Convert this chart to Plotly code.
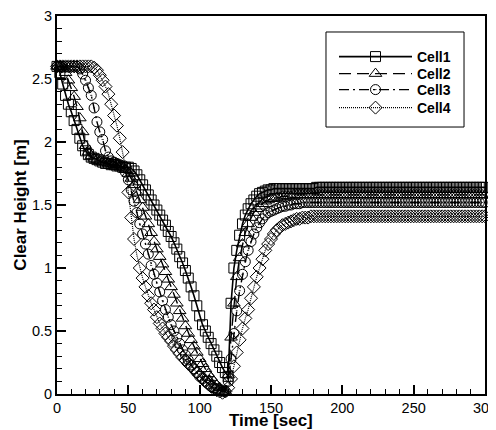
import plotly.graph_objects as go

# Time axis [sec]
time = list(range(0, 301, 2))

# Clear height [m], one value per 2 s
cell1 = [
    2.60, 2.55, 2.46, 2.37, 2.30, 2.24, 2.17, 2.10, 2.03, 1.97,   # 0-18
    1.93, 1.90, 1.88, 1.87, 1.86, 1.85, 1.84, 1.83, 1.83, 1.82,   # 20-38
    1.82, 1.81, 1.81, 1.80, 1.80, 1.80, 1.79, 1.77, 1.74, 1.70,   # 40-58
    1.66, 1.62, 1.58, 1.54, 1.50, 1.46, 1.42, 1.38, 1.34, 1.29,   # 60-78
    1.25, 1.20, 1.15, 1.09, 1.04, 0.98, 0.92, 0.85, 0.78, 0.70,   # 80-98
    0.62, 0.55, 0.50, 0.45, 0.40, 0.35, 0.30, 0.25, 0.21, 0.17,   # 100-118
    0.14, 0.72, 1.00, 1.14, 1.26, 1.35, 1.42, 1.47, 1.51, 1.54,   # 120-138
    1.57, 1.59, 1.60, 1.61, 1.62, 1.62, 1.63, 1.63, 1.63, 1.63,   # 140-158
    1.63, 1.63, 1.63, 1.63, 1.63, 1.63, 1.63, 1.63, 1.63, 1.63,   # 160-178
    1.63, 1.64, 1.64, 1.64, 1.64, 1.64, 1.64, 1.64, 1.64, 1.64,   # 180-198
    1.64, 1.64, 1.64, 1.64, 1.64, 1.64, 1.64, 1.64, 1.64, 1.64,   # 200-218
    1.64, 1.64, 1.64, 1.64, 1.64, 1.64, 1.64, 1.64, 1.64, 1.64,   # 220-238
    1.64, 1.64, 1.64, 1.64, 1.64, 1.64, 1.64, 1.64, 1.64, 1.64,   # 240-258
    1.64, 1.64, 1.64, 1.64, 1.64, 1.64, 1.64, 1.64, 1.64, 1.64,   # 260-278
    1.64, 1.64, 1.64, 1.64, 1.64, 1.64, 1.64, 1.64, 1.64, 1.64,   # 280-298
    1.64,                                                         # 300
]

cell2 = [
    2.60, 2.60, 2.60, 2.55, 2.49, 2.43, 2.36, 2.28, 2.19, 2.08,
    1.97, 1.92, 1.89, 1.87, 1.86, 1.85, 1.84, 1.84, 1.83, 1.83,
    1.82, 1.82, 1.81, 1.80, 1.78, 1.75, 1.71, 1.66, 1.60, 1.54,
    1.48, 1.41, 1.35, 1.28, 1.21, 1.15, 1.09, 1.03, 0.97, 0.91,
    0.85, 0.79, 0.72, 0.66, 0.60, 0.54, 0.48, 0.43, 0.38, 0.33,
    0.28, 0.24, 0.20, 0.16, 0.13, 0.10, 0.07, 0.05, 0.03, 0.02,
    0.15, 0.45, 0.72, 0.93, 1.08, 1.19, 1.28, 1.35, 1.40, 1.44,
    1.47, 1.49, 1.51, 1.53, 1.54, 1.55, 1.55, 1.56, 1.56, 1.57,
    1.57, 1.57, 1.57, 1.58, 1.58, 1.58, 1.58, 1.58, 1.58, 1.58,
    1.58, 1.58, 1.58, 1.58, 1.58, 1.58, 1.58, 1.58, 1.58, 1.58,
    1.58, 1.58, 1.58, 1.58, 1.58, 1.58, 1.58, 1.58, 1.58, 1.58,
    1.58, 1.58, 1.58, 1.58, 1.58, 1.58, 1.58, 1.58, 1.58, 1.58,
    1.58, 1.58, 1.58, 1.58, 1.58, 1.58, 1.58, 1.58, 1.58, 1.58,
    1.58, 1.58, 1.58, 1.58, 1.58, 1.58, 1.58, 1.58, 1.58, 1.58,
    1.58, 1.58, 1.58, 1.58, 1.58, 1.58, 1.58, 1.58, 1.58, 1.58,
    1.58,
]

cell3 = [
    2.60, 2.60, 2.60, 2.60, 2.60, 2.60, 2.60, 2.60, 2.58, 2.54,
    2.49, 2.43, 2.37, 2.27, 2.16, 2.08, 2.02, 1.93, 1.88, 1.85,
    1.84, 1.83, 1.82, 1.80, 1.76, 1.70, 1.62, 1.53, 1.44, 1.35,
    1.27, 1.19, 1.11, 1.02, 0.95, 0.88, 0.81, 0.74, 0.67, 0.61,
    0.55, 0.50, 0.45, 0.40, 0.35, 0.31, 0.27, 0.23, 0.20, 0.17,
    0.14, 0.12, 0.10, 0.08, 0.06, 0.05, 0.04, 0.03, 0.02, 0.02,
    0.10, 0.28, 0.48, 0.66, 0.82, 0.95, 1.05, 1.14, 1.21, 1.27,
    1.32, 1.36, 1.39, 1.42, 1.44, 1.45, 1.46, 1.47, 1.48, 1.49,
    1.49, 1.50, 1.50, 1.51, 1.51, 1.51, 1.52, 1.52, 1.52, 1.52,
    1.52, 1.52, 1.52, 1.52, 1.52, 1.52, 1.52, 1.52, 1.52, 1.52,
    1.52, 1.52, 1.52, 1.52, 1.52, 1.52, 1.52, 1.52, 1.52, 1.52,
    1.52, 1.52, 1.52, 1.52, 1.52, 1.52, 1.52, 1.52, 1.52, 1.52,
    1.52, 1.52, 1.52, 1.52, 1.52, 1.52, 1.52, 1.52, 1.52, 1.52,
    1.52, 1.52, 1.52, 1.52, 1.52, 1.52, 1.52, 1.52, 1.52, 1.52,
    1.52, 1.52, 1.52, 1.52, 1.52, 1.52, 1.52, 1.52, 1.52, 1.52,
    1.52,
]

cell4 = [
    2.60, 2.60, 2.60, 2.60, 2.60, 2.60, 2.60, 2.60, 2.60, 2.60,
    2.60, 2.60, 2.60, 2.59, 2.57, 2.53, 2.49, 2.44, 2.38, 2.30,
    2.21, 2.13, 2.03, 1.92, 1.80, 1.60, 1.40, 1.23, 1.10, 1.00,
    0.92, 0.85, 0.78, 0.72, 0.67, 0.61, 0.56, 0.52, 0.48, 0.45,
    0.42, 0.38, 0.35, 0.32, 0.29, 0.27, 0.24, 0.22, 0.20, 0.17,
    0.15, 0.13, 0.10, 0.08, 0.06, 0.04, 0.03, 0.02, 0.01, 0.02,
    0.05, 0.12, 0.22, 0.33, 0.43, 0.52, 0.60, 0.67, 0.76, 0.85,
    0.93, 1.00, 1.07, 1.14, 1.19, 1.23, 1.27, 1.30, 1.32, 1.34,
    1.35, 1.36, 1.37, 1.38, 1.39, 1.39, 1.40, 1.40, 1.40, 1.41,
    1.41, 1.41, 1.41, 1.41, 1.41, 1.41, 1.41, 1.41, 1.41, 1.41,
    1.41, 1.41, 1.41, 1.41, 1.41, 1.41, 1.41, 1.41, 1.41, 1.41,
    1.41, 1.41, 1.41, 1.41, 1.41, 1.41, 1.41, 1.41, 1.41, 1.41,
    1.41, 1.41, 1.41, 1.41, 1.41, 1.41, 1.41, 1.41, 1.41, 1.41,
    1.41, 1.41, 1.41, 1.41, 1.41, 1.41, 1.41, 1.41, 1.41, 1.41,
    1.41, 1.41, 1.41, 1.41, 1.41, 1.41, 1.41, 1.41, 1.41, 1.41,
    1.41,
]

x_ticks = [0, 50, 100, 150, 200, 250, 300]
y_ticks = [0, 0.5, 1, 1.5, 2, 2.5, 3]
y_tick_labels = ["0", "0.5", "1", "1.5", "2", "2.5", "3"]
x_title = "Time [sec]"
y_title = "Clear Height [m]"

FONT = "Liberation Sans, Arial, sans-serif"

# name, values, marker symbol, dash, line width, marker size, legend id, legend top (paper y)
styles = [
    ("Cell1", cell1, "square-open", "solid", 1.6, 10, "legend", 0.9339),
    ("Cell2", cell2, "triangle-up-open", "12px,6px", 1.4, 11, "legend2", 0.8889),
    ("Cell3", cell3, "circle-open-dot", "10px,4px,2px,4px", 1.4, 10, "legend3", 0.8466),
    ("Cell4", cell4, "diamond-open", "1px,1px", 1.2, 10, "legend4", 0.7989),
]

fig = go.Figure()
for name, vals, sym, dash, lw, ms, lg, _ in styles:
    fig.add_trace(go.Scatter(
        x=time, y=vals, name=name, mode="lines+markers",
        line=dict(color="black", width=lw, dash=dash),
        marker=dict(symbol=sym, size=ms, color="black",
                    line=dict(width=1, color="black")),
        cliponaxis=False, legend=lg,
    ))

axis_common = dict(
    showline=True, linewidth=2, linecolor="black", mirror=True,
    ticks="inside", ticklen=9, tickwidth=1.5, tickcolor="black",
    showgrid=False, zeroline=False, automargin=False,
    ticklabeloverflow="allow",
    tickfont=dict(family=FONT, size=14.5, color="black"),
)

legend_common = dict(
    x=0.6472, xanchor="left", yanchor="top",
    bgcolor="rgba(0,0,0,0)", borderwidth=0, itemwidth=73,
    font=dict(family=FONT, size=14, weight="bold", color="black"),
)

layout_legends = {}
for name, vals, sym, dash, lw, ms, lg, ytop in styles:
    layout_legends[lg] = dict(y=ytop, **legend_common)

# the page adds an 8 px body margin, so the figure is 8 px smaller and shifted
fig.update_layout(
    width=488, height=422,
    margin=dict(l=49, r=11, t=8, b=36),
    paper_bgcolor="white", plot_bgcolor="white",
    font=dict(family=FONT, color="black"),
    xaxis=dict(
        range=[0, 300], tickvals=x_ticks,
        minor=dict(ticks="inside", ticklen=5, tickwidth=1, dtick=10,
                   tickcolor="black", showgrid=False),
        **axis_common,
    ),
    yaxis=dict(
        range=[0, 3], tickvals=y_ticks, ticktext=y_tick_labels,
        minor=dict(ticks="inside", ticklen=5, tickwidth=1, dtick=0.1,
                   tickcolor="black", showgrid=False),
        title=dict(text=y_title, standoff=1,
                   font=dict(family=FONT, size=17, weight="bold")),
        **axis_common,
    ),
    showlegend=True,
    annotations=[dict(
        text=x_title, xref="paper", yref="paper", x=0.5, y=-0.069,
        xanchor="center", yanchor="middle", showarrow=False,
        font=dict(family=FONT, size=17, weight="bold", color="black"),
    )],
    shapes=[dict(
        type="rect", xref="paper", yref="paper",
        x0=0.6285, x1=0.951, y0=0.7063, y1=0.9577,
        line=dict(color="black", width=1), fillcolor="white", layer="below",
    )],
    **layout_legends,
)

fig.write_html("out.html")
